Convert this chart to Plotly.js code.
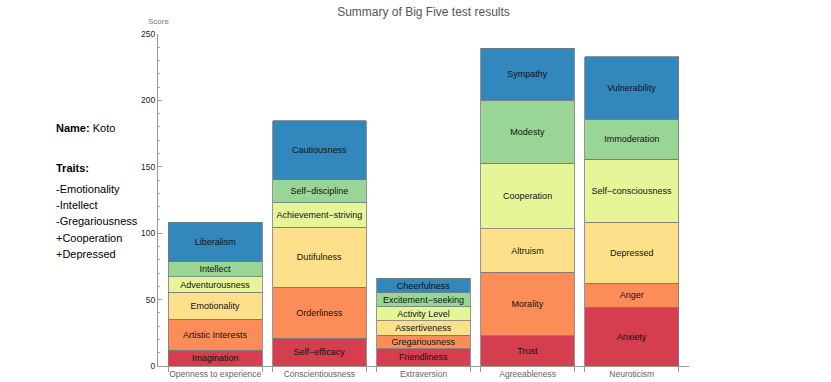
<!DOCTYPE html>
<html><head><meta charset="utf-8">
<script src="https://cdn.plot.ly/plotly-3.0.1.min.js"></script>
<style>html,body{margin:0;padding:0;background:#fff}#chart{width:831px;height:382px}</style>
</head><body><div id="chart"></div>
<script>
// Categories (Big Five domains)
const categories = ['Openness to experience', 'Conscientiousness', 'Extraversion', 'Agreeableness', 'Neuroticism'];

// Facets, bottom to top, and their scores
const opennessFacets = ['Imagination', 'Artistic Interests', 'Emotionality', 'Adventurousness', 'Intellect', 'Liberalism'];
const opennessScores = [12.0, 23.2, 20.3, 11.7, 11.3, 29.7];

const conscientiousnessFacets = ['Self\u2212efficacy', 'Orderliness', 'Dutifulness', 'Achievement\u2212striving', 'Self\u2212discipline', 'Cautiousness'];
const conscientiousnessScores = [20.9, 38.4, 45.1, 18.6, 17.1, 44.6];

const extraversionFacets = ['Friendliness', 'Gregariousness', 'Assertiveness', 'Activity Level', 'Excitement\u2212seeking', 'Cheerfulness'];
const extraversionScores = [13.0, 10.1, 10.8, 10.8, 10.5, 10.8];

const agreeablenessFacets = ['Trust', 'Morality', 'Altruism', 'Cooperation', 'Modesty', 'Sympathy'];
const agreeablenessScores = [22.6, 48.0, 32.6, 49.4, 47.7, 38.9];

const neuroticismFacets = ['Anxiety', 'Anger', 'Depressed', 'Self\u2212consciousness', 'Immoderation', 'Vulnerability'];
const neuroticismScores = [44.2, 18.1, 45.9, 47.4, 30.2, 47.1];

// Side notes
const personName = 'Koto';
const traits = ['-Emotionality', '-Intellect', '-Gregariousness', '+Cooperation', '+Depressed'];

const yTickVals = [0, 50, 100, 150, 200, 250];

// ---- build ----
const facetsByCat = [opennessFacets, conscientiousnessFacets, extraversionFacets, agreeablenessFacets, neuroticismFacets];
const scoresByCat = [opennessScores, conscientiousnessScores, extraversionScores, agreeablenessScores, neuroticismScores];
const levelColors = ['#d53e4f', '#fc8d59', '#fee08b', '#e6f598', '#99d594', '#3288bd'];
const xIdx = categories.map((_, i) => i);
const barW = 0.9;

const traces = levelColors.map((col, k) => ({
  type: 'bar',
  x: xIdx,
  y: scoresByCat.map(s => s[k]),
  text: facetsByCat.map(f => f[k]),
  width: barW,
  marker: {color: col, line: {color: '#7a7a7a', width: 0.8}},
  textposition: 'inside',
  insidetextanchor: 'middle',
  textangle: 0,
  constraintext: 'none',
  textfont: {family: 'Liberation Sans, Arial, sans-serif', size: 9, color: '#111'},
  hoverinfo: 'skip',
  showlegend: false,
  xaxis: 'x',
  yaxis: 'y'
}));

// invisible trace to activate the overlay axis carrying the bar-edge ticks
traces.push({type: 'scatter', x: [0], y: [0], xaxis: 'x2', yaxis: 'y', mode: 'markers',
  marker: {opacity: 0}, hoverinfo: 'skip', showlegend: false});

const edgeTicks = [];
xIdx.forEach(i => { edgeTicks.push(i - barW / 2, i + barW / 2); });

const plotTop = 34, plotBottom = 366, H = 382;
const pyToPaper = py => (plotBottom - py) / (plotBottom - plotTop);
const pxToPaper = px => (px - 158) / (689 - 158);

const annotations = [
  {xref: 'paper', yref: 'paper', x: 0, y: 1, yshift: 6, xanchor: 'center', yanchor: 'bottom',
   text: 'Score', showarrow: false, font: {family: 'Liberation Sans, Arial', size: 8, color: '#777'}},
  {xref: 'paper', yref: 'paper', x: pxToPaper(54), y: pyToPaper(128), xanchor: 'left', yanchor: 'middle',
   text: '<b>Name:</b> ' + personName, showarrow: false, font: {family: 'Liberation Sans, Arial', size: 11, color: '#000'}},
  {xref: 'paper', yref: 'paper', x: pxToPaper(54), y: pyToPaper(168), xanchor: 'left', yanchor: 'middle',
   text: '<b>Traits:</b>', showarrow: false, font: {family: 'Liberation Sans, Arial', size: 11, color: '#000'}}
];
traits.forEach((t, i) => {
  annotations.push({xref: 'paper', yref: 'paper', x: pxToPaper(54), y: pyToPaper(189 + i * 16.2),
    xanchor: 'left', yanchor: 'middle', text: t, showarrow: false,
    font: {family: 'Liberation Sans, Arial', size: 11, color: '#000'}});
});

const layout = {
  width: 831, height: 382,
  margin: {l: 158, r: 142, t: plotTop, b: H - plotBottom, pad: 0},
  paper_bgcolor: '#fff', plot_bgcolor: '#fff',
  barmode: 'stack',
  showlegend: false,
  font: {family: 'Liberation Sans, Arial, sans-serif'},
  title: {text: 'Summary of Big Five test results', x: 0.5, xref: 'paper', xanchor: 'center',
    y: 1 - 12 / H, yref: 'container', yanchor: 'middle',
    font: {family: 'Liberation Sans, Arial', size: 12, color: '#555'}},
  xaxis: {
    type: 'linear', range: [-0.55, 4.55], fixedrange: true,
    tickmode: 'array', tickvals: xIdx, ticktext: categories, ticks: '',
    tickfont: {size: 8.5, color: '#666'},
    showgrid: false, zeroline: false,
    showline: true, linecolor: '#999', linewidth: 1
  },
  xaxis2: {
    type: 'linear', overlaying: 'x', matches: 'x', anchor: 'y', side: 'bottom',
    tickmode: 'array', tickvals: edgeTicks, ticks: 'outside', ticklen: 5, tickcolor: '#999', tickwidth: 1,
    showticklabels: false, showgrid: false, zeroline: false, showline: false
  },
  yaxis: {
    range: [0, 250], fixedrange: true,
    tickmode: 'array', tickvals: yTickVals,
    ticks: 'inside', ticklen: 4, tickcolor: '#999', tickwidth: 1,
    minor: {dtick: 10, tick0: 0, ticks: 'inside', ticklen: 2, tickcolor: '#aaa', showgrid: false},
    tickfont: {size: 8.5, color: '#222'},
    showgrid: false, zeroline: false,
    showline: true, linecolor: '#999', linewidth: 1
  },
  annotations: annotations
};

Plotly.newPlot('chart', traces, layout, {displayModeBar: false, staticPlot: true});
</script></body></html>
